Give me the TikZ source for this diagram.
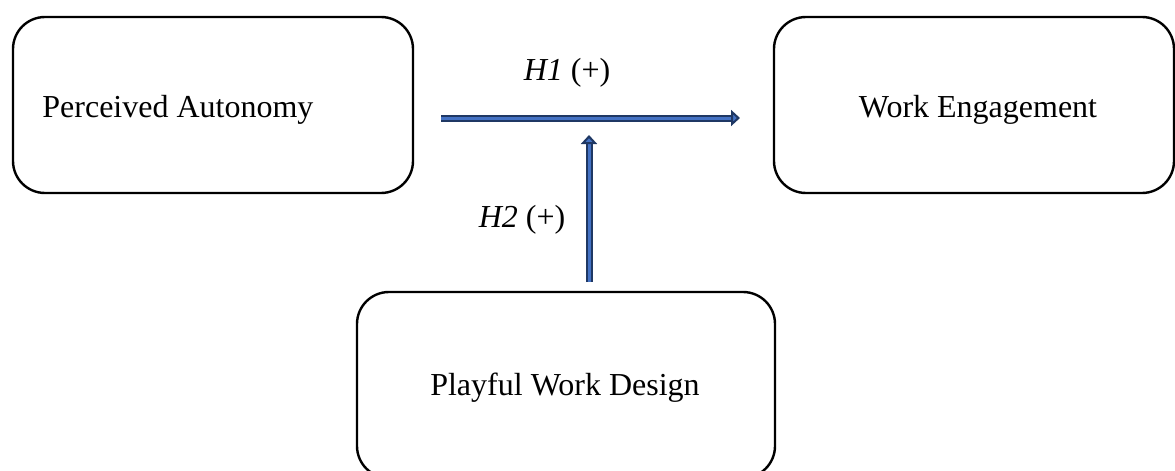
\documentclass[tikz,border=0pt]{standalone}
\usepackage{fontspec}
\setmainfont{Liberation Serif}
\usetikzlibrary{arrows.meta}
\definecolor{arrowline}{HTML}{1F3864}
\definecolor{arrowfill}{HTML}{4472C4}
\tikzset{
  box/.style={draw=black, line width=1.2pt, rounded corners=16pt, inner sep=0pt},
  label/.style={font=\fontsize{16pt}{19pt}\selectfont, inner sep=0pt},
  blockarrow/.style={draw=arrowline, line width=1pt, double=arrowfill, double distance=1.5pt,
    -{Triangle[length=4.5pt,width=8pt,fill=arrowfill]}}
}
\begin{document}
\begin{tikzpicture}[x=0.5pt,y=-0.5pt]
  \useasboundingbox (0,0) rectangle (1175,471);

  % construct boxes
  \node[box, minimum width=200pt, minimum height=88pt] (pa) at (213,105) {};
  \node[box, minimum width=200pt, minimum height=88pt] (we) at (974,105) {};
  \node[box, minimum width=209pt, minimum height=93pt] (pw) at (566,385) {};

  % box captions
  \node[label, anchor=base west] (patext) at (42,118) {Perceived Autonomy};
  \node[label, anchor=base] (wetext) at (978,118) {Work Engagement};
  \node[label, anchor=base] (pwtext) at (565,395) {Playful Work Design};

  % hypothesis paths
  \coordinate (h1s) at (441,118);
  \coordinate (h1e) at (740,118);
  \coordinate (h2s) at (589,282);
  \coordinate (h2e) at (589,135);
  \draw[blockarrow] (h1s) -- (h1e);
  \draw[blockarrow] (h2s) -- (h2e);

  % hypothesis labels
  \node[label, anchor=base] (h1) at (567,80) {\textit{H1} (+)};
  \node[label, anchor=base] (h2) at (522,227) {\textit{H2} (+)};
\end{tikzpicture}
\end{document}
